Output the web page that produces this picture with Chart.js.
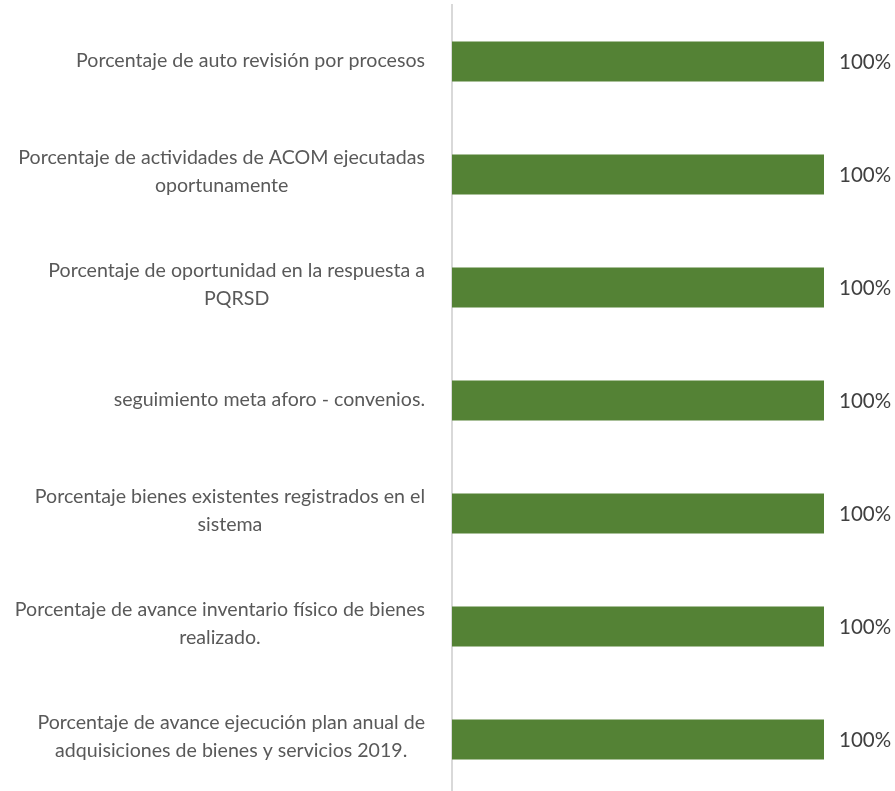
<!DOCTYPE html>
<html>
<head>
<meta charset="utf-8">
<script src="https://cdn.jsdelivr.net/npm/chart.js@4.4.1/dist/chart.umd.min.js"></script>
<style>
  html, body { margin: 0; padding: 0; background: #ffffff; overflow: hidden; }
  #wrap { position: relative; width: 895px; height: 797px; }
</style>
</head>
<body>
<div id="wrap"><canvas id="chart"></canvas></div>
<script>
// categorias (cada una ya partida en las lineas que muestra la imagen)
const categorias = [
  ["Porcentaje de auto revisión por procesos"],
  ["Porcentaje de actividades de ACOM ejecutadas", "oportunamente"],
  ["Porcentaje de oportunidad en la respuesta a", "PQRSD"],
  ["seguimiento meta aforo - convenios."],
  ["Porcentaje bienes existentes registrados en el", "sistema"],
  ["Porcentaje de avance inventario físico de bienes", "realizado."],
  ["Porcentaje de avance ejecución plan anual de", "adquisiciones de bienes y servicios 2019."]
];
const avance = [100, 100, 100, 100, 100, 100, 100];
const ejeMin = 0;
const ejeMax = 100;

const fuente = "Lato, 'Open Sans', sans-serif";

// etiquetas de categoria: lineas centradas entre si, bloque pegado al eje
const etiquetasEje = {
  id: "etiquetasEje",
  afterDraw(chart) {
    const ctx = chart.ctx;
    const y = chart.scales.y;
    const borde = chart.chartArea.left - 27;
    ctx.save();
    ctx.font = "19.6px " + fuente;
    ctx.fillStyle = "#595959";
    ctx.textAlign = "center";
    ctx.textBaseline = "middle";
    categorias.forEach((lineas, i) => {
      const ancho = Math.max(...lineas.map(l => ctx.measureText(l).width));
      const cx = borde - ancho / 2;
      const n = lineas.length;
      const cy = y.getPixelForValue(i) - 1 - (n - 1) * 2;
      const alto = 28;
      lineas.forEach((l, j) => {
        ctx.fillText(l, cx, cy + (j - (n - 1) / 2) * alto);
      });
    });
    ctx.restore();
  }
};

// valores al final de cada barra
const etiquetasValor = {
  id: "etiquetasValor",
  afterDatasetsDraw(chart) {
    const ctx = chart.ctx;
    const meta = chart.getDatasetMeta(0);
    ctx.save();
    ctx.font = "20.5px " + fuente;
    ctx.fillStyle = "#404040";
    ctx.textAlign = "left";
    ctx.textBaseline = "middle";
    meta.data.forEach((barra, i) => {
      ctx.fillText(avance[i] + "%", barra.x + 15, barra.y + 1);
    });
    ctx.restore();
  }
};

new Chart(document.getElementById("chart"), {
  type: "bar",
  data: {
    labels: categorias,
    datasets: [{
      data: avance,
      backgroundColor: "#548235",
      borderWidth: 0,
      barPercentage: 0.354,
      categoryPercentage: 1
    }]
  },
  options: {
    indexAxis: "y",
    responsive: true,
    maintainAspectRatio: false,
    animation: false,
    layout: { padding: { top: 5, bottom: 1, right: 71, left: 0 } },
    plugins: {
      legend: { display: false },
      tooltip: { enabled: false }
    },
    scales: {
      x: {
        min: ejeMin,
        max: ejeMax,
        display: false
      },
      y: {
        ticks: { display: false },
        grid: { display: false },
        border: { display: true, color: "#d9d9d9", width: 2 },
        afterFit(scale) { scale.width = 452; }
      }
    }
  },
  plugins: [etiquetasEje, etiquetasValor]
});
</script>
</body>
</html>
